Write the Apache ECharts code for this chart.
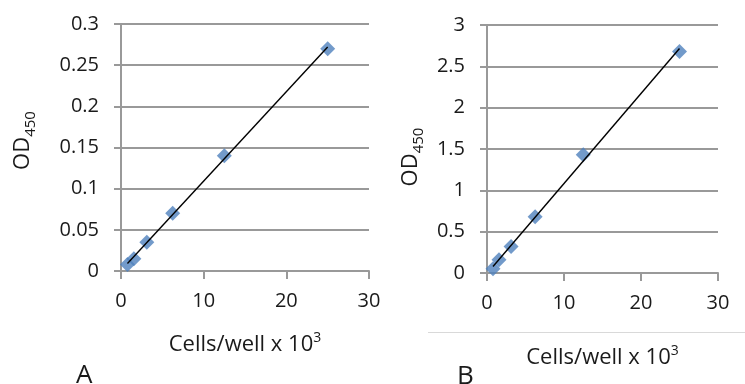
<!DOCTYPE html>
<html><head><meta charset="utf-8">
<script src="https://cdn.jsdelivr.net/npm/echarts@6/dist/echarts.min.js"></script>
<style>html,body{margin:0;padding:0;background:#fff}#c{width:745px;height:384px}</style>
</head><body><div id="c"></div>
<script>
const cellsA = [0.78, 1.56, 3.125, 6.25, 12.5, 25];
const odA = [0.008, 0.015, 0.035, 0.070, 0.140, 0.270];
const cellsB = [0.78, 1.56, 3.125, 6.25, 12.5, 25];
const odB = [0.05, 0.16, 0.32, 0.68, 1.43, 2.68];
const xTicks = [0, 10, 20, 30];
const yTicksA = [0, 0.05, 0.1, 0.15, 0.2, 0.25, 0.3];
const yTicksB = [0, 0.5, 1, 1.5, 2, 2.5, 3];

function fit(xs, ys) {
  const n = xs.length;
  const mx = xs.reduce((a,b)=>a+b,0)/n, my = ys.reduce((a,b)=>a+b,0)/n;
  let sxy=0, sxx=0;
  for (let i=0;i<n;i++){ sxy+=(xs[i]-mx)*(ys[i]-my); sxx+=(xs[i]-mx)**2; }
  const m = sxy/sxx, b = my - m*mx;
  const x0 = Math.min(...xs), x1 = Math.max(...xs);
  return [[x0, m*x0+b],[x1, m*x1+b]];
}

const FONT = 'Open Sans';
const gray = '#999999';
const txt = '#1a1a1a';

function xAx(gi, nameGap) {
  return {
    gridIndex: gi, type: 'value', min: xTicks[0], max: xTicks[xTicks.length-1], interval: 10,
    axisLine: {show: true, lineStyle: {color: gray, width: 2}},
    axisTick: {show: true, length: 8, lineStyle: {color: gray, width: 2}},
    axisLabel: {color: txt, fontFamily: FONT, fontSize: 20, margin: 20},
    splitLine: {show: false},
    name: '{a|Cells/well x 10}{s|3}', nameLocation: 'middle', nameGap: nameGap,
    nameTextStyle: {rich: {
      a: {fontFamily: FONT, fontSize: 22, color: txt, lineHeight: 28},
      s: {fontFamily: FONT, fontSize: 14, color: txt, verticalAlign: 'top', lineHeight: 28, padding:[0,0,9,0]}
    }}
  };
}
function yAx(gi, ticks, interval, nameGap, pad) {
  return {
    gridIndex: gi, type: 'value', min: ticks[0], max: ticks[ticks.length-1], interval: interval,
    axisLine: {show: true, lineStyle: {color: gray, width: 2}},
    axisTick: {show: true, length: 7, lineStyle: {color: gray, width: 2}},
    axisLabel: {color: txt, fontFamily: FONT, fontSize: 20, margin: 22},
    splitLine: {show: true, lineStyle: {color: gray, width: 2}},
    name: '{a|OD}{s|450}', nameLocation: 'middle', nameGap: nameGap,
    nameTextStyle: {padding: pad, rich: {
      a: {fontFamily: FONT, fontSize: 22, color: txt, lineHeight: 30},
      s: {fontFamily: FONT, fontSize: 15, color: txt, verticalAlign: 'bottom', lineHeight: 30, padding:[9,0,0,0]}
    }}
  };
}

const chart = echarts.init(document.getElementById('c'), null, {renderer: 'canvas'});
chart.setOption({
  animation: false,
  backgroundColor: '#fff',
  grid: [
    {left: 121, top: 24, width: 248, height: 247},
    {left: 487, top: 25, width: 231, height: 248}
  ],
  xAxis: [xAx(0, 60), xAx(1, 71)],
  yAxis: [yAx(0, yTicksA, 0.05, 83, [0,0,0,14]), yAx(1, yTicksB, 0.5, 61, [0,16,0,0])],
  graphic: [
    {type: 'text', left: 76, top: 363, style: {text: 'A', fontFamily: FONT, fontSize: 26, fill: txt}},
    {type: 'text', left: 457, top: 364, style: {text: 'B', fontFamily: FONT, fontSize: 26, fill: txt}},
    {type: 'line', shape: {x1: 428, y1: 332.5, x2: 745, y2: 332.5}, style: {stroke: '#d9d9d9', lineWidth: 1}}
  ],
  series: [
    {type: 'scatter', xAxisIndex: 0, yAxisIndex: 0, symbol: 'diamond', symbolSize: 15,
     itemStyle: {color: '#4F81BD'}, data: cellsA.map((x,i)=>[x, odA[i]]), z: 3},
    {type: 'line', xAxisIndex: 0, yAxisIndex: 0, showSymbol: false, symbol: 'none',
     lineStyle: {color: '#000', width: 1.4}, data: fit(cellsA, odA), z: 4},
    {type: 'scatter', xAxisIndex: 1, yAxisIndex: 1, symbol: 'diamond', symbolSize: 15,
     itemStyle: {color: '#4F81BD'}, data: cellsB.map((x,i)=>[x, odB[i]]), z: 3},
    {type: 'line', xAxisIndex: 1, yAxisIndex: 1, showSymbol: false, symbol: 'none',
     lineStyle: {color: '#000', width: 1.4}, data: fit(cellsB, odB), z: 4}
  ]
});
</script></body></html>
